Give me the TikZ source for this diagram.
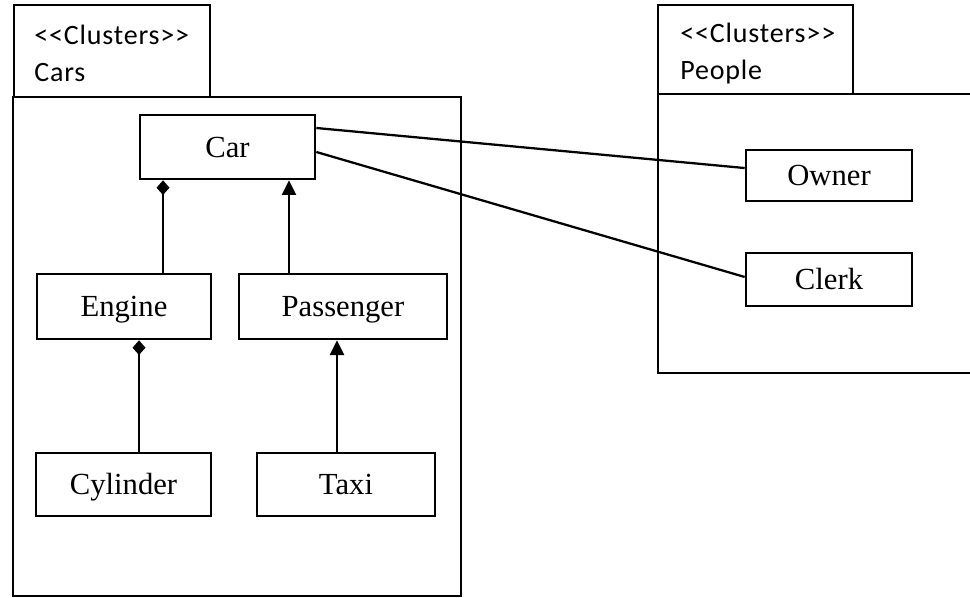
\documentclass[tikz,border=0pt]{standalone}
\usepackage{fontspec}
\setmainfont{Liberation Serif}
\newfontfamily\tabfont[LetterSpace=3]{Carlito}
\usetikzlibrary{arrows.meta}
\begin{document}
\begin{tikzpicture}[x=0.75pt,y=-0.75pt,
  frame/.style={draw=black,line width=2pt},
  cls/.style={draw=black,line width=2pt,fill=white,inner sep=0pt,
    text height=15.2pt,text depth=0pt,
    font=\fontsize{23}{26}\selectfont},
  tabtext/.style={anchor=west,inner sep=0pt,font=\tabfont\fontsize{21}{24}\selectfont},
  link/.style={line width=1.7pt},
  comp/.style={link,-{Diamond[width=9.75pt,length=11pt]}},
  inherit/.style={link,-{Triangle[width=10.5pt,length=11pt]}}]
\useasboundingbox (0,0) rectangle (970,598);

% package "Cars"
\draw[frame] (14,5) rectangle (210,97);
\draw[frame] (13,97) rectangle (461,596);
\node[tabtext] (carsst) at (34,35) {<<Clusters>>};
\node[tabtext] (carsname) at (34,73) {Cars};

% package "People" (runs off the right edge)
\draw[frame] (658,5) rectangle (853,94);
\draw[frame] (975,94) -- (658,94) -- (658,373) -- (975,373);
\node[tabtext] (peoplest) at (680,33) {<<Clusters>>};
\node[tabtext] (peoplename) at (680,72) {People};

% classes
\node[cls,minimum width=131.25pt,minimum height=48pt] (Car) at (227.5,147) {Car};
\node[cls,minimum width=130.5pt,minimum height=48.75pt] (Engine) at (124,306.5) {Engine};
\node[cls,minimum width=156pt,minimum height=48.75pt] (Passenger) at (343,306.5) {Passenger};
\node[cls,minimum width=131.25pt,minimum height=47.25pt] (Cylinder) at (123.5,484.5) {Cylinder};
\node[cls,minimum width=133.5pt,minimum height=47.25pt] (Taxi) at (346,484.5) {Taxi};
\node[cls,minimum width=124.5pt,minimum height=38.25pt] (Owner) at (829,175.5) {Owner};
\node[cls,minimum width=124.5pt,minimum height=39.75pt] (Clerk) at (829,279.5) {Clerk};

% composition and generalisation links
\coordinate (e1) at ([xshift=29.25pt]Engine.north);
\draw[comp] (e1) -- (e1 |- Car.south);
\coordinate (p1) at ([xshift=-40.5pt]Passenger.north);
\draw[inherit] (p1) -- (p1 |- Car.south);
\coordinate (c1) at ([xshift=11.625pt]Cylinder.north);
\draw[comp] (c1) -- (c1 |- Engine.south);
\coordinate (t1) at ([xshift=-6.75pt]Taxi.north);
\draw[inherit] (t1) -- (t1 |- Passenger.south);

% associations to the People package
\draw[link] ([yshift=14.25pt]Car.east) -- ([yshift=5.6pt]Owner.west);
\draw[link] ([yshift=-3.75pt]Car.east) -- ([yshift=1.9pt]Clerk.west);
\end{tikzpicture}
\end{document}
